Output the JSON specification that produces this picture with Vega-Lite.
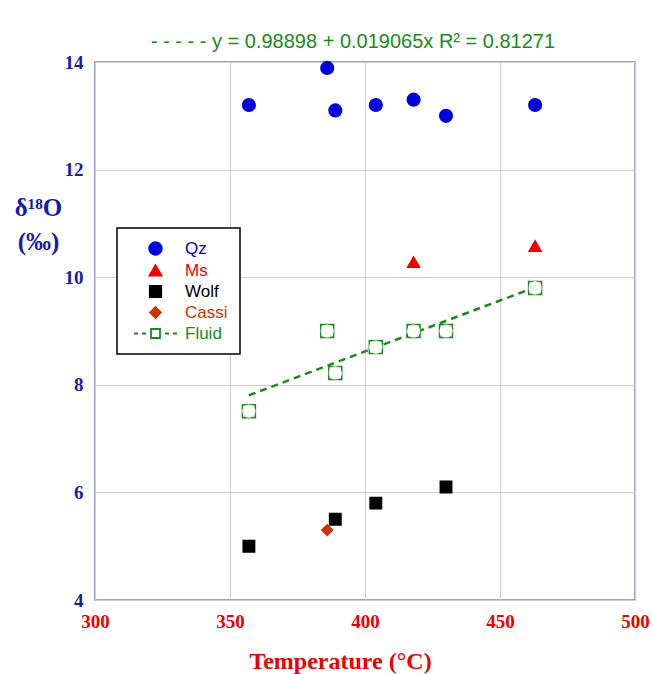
{
  "$schema": "https://vega.github.io/schema/vega-lite/v6.json",
  "width": 540,
  "height": 538,
  "autosize": "none",
  "padding": {"left": 95, "top": 62, "right": 18, "bottom": 74},
  "background": "white",
  "title": {
    "text": "- - - - -  y = 0.98898 + 0.019065x    R² = 0.81271",
    "color": "#1a8a1a",
    "font": "Liberation Sans",
    "fontSize": 20,
    "fontWeight": "normal",
    "anchor": "middle",
    "dx": -12,
    "offset": 1
  },
  "config": {
    "view": {"stroke": "#8080c8", "strokeWidth": 1.5},
    "axis": {"gridColor": "#d0d0d0", "gridWidth": 1, "domain": false, "ticks": false}
  },
  "data": {
    "values": [
      {"series": "Qz", "x": 357, "y": 13.2},
      {"series": "Qz", "x": 386, "y": 13.89},
      {"series": "Qz", "x": 389, "y": 13.1},
      {"series": "Qz", "x": 404, "y": 13.2},
      {"series": "Qz", "x": 418, "y": 13.3},
      {"series": "Qz", "x": 430, "y": 13.0},
      {"series": "Qz", "x": 463, "y": 13.2},
      {"series": "Ms", "x": 418, "y": 10.28},
      {"series": "Ms", "x": 463, "y": 10.58},
      {"series": "Wolf", "x": 357, "y": 5.0},
      {"series": "Wolf", "x": 389, "y": 5.5},
      {"series": "Wolf", "x": 404, "y": 5.8},
      {"series": "Wolf", "x": 430, "y": 6.1},
      {"series": "Cassi", "x": 386, "y": 5.3},
      {"series": "Fluid", "x": 357, "y": 7.51},
      {"series": "Fluid", "x": 386, "y": 9.0},
      {"series": "Fluid", "x": 389, "y": 8.22},
      {"series": "Fluid", "x": 404, "y": 8.7},
      {"series": "Fluid", "x": 418, "y": 9.0},
      {"series": "Fluid", "x": 430, "y": 9.0},
      {"series": "Fluid", "x": 463, "y": 9.8}
    ]
  },
  "layer": [
    {
      "transform": [
        {"filter": "datum.series === 'Fluid'"},
        {"regression": "y", "on": "x"}
      ],
      "mark": {"type": "line", "color": "#1a8a1a", "strokeWidth": 2.5, "strokeDash": [7, 5]},
      "encoding": {
        "x": {"field": "x", "type": "quantitative"},
        "y": {"field": "y", "type": "quantitative"}
      }
    },
    {
      "transform": [{"filter": "datum.series === 'Fluid'"}],
      "mark": {"type": "square", "filled": false, "stroke": "#1a8a1a", "fill": "#ffffff", "fillOpacity": 1, "opacity": 1, "strokeWidth": 1.6, "size": 165},
      "encoding": {
        "x": {"field": "x", "type": "quantitative"},
        "y": {"field": "y", "type": "quantitative"}
      }
    },
    {
      "transform": [{"filter": "datum.series === 'Fluid'"}],
      "mark": {"type": "circle", "fill": "#ffffff", "fillOpacity": 1, "opacity": 1, "size": 175},
      "encoding": {
        "x": {"field": "x", "type": "quantitative"},
        "y": {"field": "y", "type": "quantitative"}
      }
    },
    {
      "mark": {"type": "point", "filled": false, "strokeWidth": 1.5},
      "encoding": {
        "x": {
          "field": "x", "type": "quantitative",
          "scale": {"domain": [300, 500], "nice": false, "zero": false},
          "axis": {
            "values": [300, 350, 400, 450, 500],
            "labelFont": "Liberation Serif", "labelFontSize": 19, "labelFontWeight": "bold",
            "labelColor": "#ee0000", "labelPadding": 12, "labelFlush": false,
            "title": "Temperature (°C)", "titleFont": "Liberation Serif", "titleFontSize": 24,
            "titleFontWeight": "bold", "titleColor": "#ee0000",
            "titleX": 245, "titleY": 68, "titleBaseline": "alphabetic", "titleAnchor": "middle"
          }
        },
        "y": {
          "field": "y", "type": "quantitative",
          "scale": {"domain": [4, 14], "nice": false, "zero": false},
          "axis": {
            "values": [4, 6, 8, 10, 12, 14],
            "labelFont": "Liberation Serif", "labelFontSize": 19, "labelFontWeight": "bold",
            "labelColor": "#1a1aaa", "labelPadding": 12, "labelFlush": false,
            "title": ["δ¹⁸O", "(‰)"], "titleFont": "Liberation Serif", "titleFontSize": 25,
            "titleFontWeight": "bold", "titleColor": "#1a1aaa", "titleAngle": 0,
            "titleX": -57, "titleY": 153, "titleAlign": "center", "titleBaseline": "alphabetic",
            "titleLineHeight": 34
          }
        },
        "opacity": {"condition": {"test": "datum.series === 'Fluid'", "value": 0}, "value": 1},
        "fill": {
          "field": "series", "type": "nominal",
          "scale": {"domain": ["Qz", "Ms", "Wolf", "Cassi", "Fluid"], "range": ["#0000dd", "#ee0000", "#000000", "#cc3300", "#ffffff"]},
          "legend": {
            "title": null, "orient": "none", "legendX": 22, "legendY": 166,
            "strokeColor": "#000000", "fillColor": "#ffffff", "padding": 12,
            "labelFont": "Liberation Sans", "labelFontSize": 17, "labelOffset": 21,
            "symbolOffset": 18, "rowPadding": 2, "symbolStrokeWidth": 1.8, "symbolOpacity": 1,
            "encode": {
              "legend": {"update": {"strokeWidth": {"value": 1.5}}},
              "labels": {"update": {"fill": {"scale": "stroke", "field": "value"}}}
            }
          }
        },
        "stroke": {
          "field": "series", "type": "nominal",
          "scale": {"domain": ["Qz", "Ms", "Wolf", "Cassi", "Fluid"], "range": ["#0000dd", "#ee0000", "#000000", "#cc3300", "#1a8a1a"]}
        },
        "shape": {
          "field": "series", "type": "nominal",
          "scale": {"domain": ["Qz", "Ms", "Wolf", "Cassi", "Fluid"], "range": ["circle", "triangle-up", "square", "diamond", "M-4.3,0H-3.5M-2.7,0H-1.9M1.9,0H2.7M3.5,0H4.3M-0.9,-0.9H0.9V0.9H-0.9Z"]}
        },
        "size": {
          "field": "series", "type": "nominal",
          "scale": {"domain": ["Qz", "Ms", "Wolf", "Cassi", "Fluid"], "range": [160, 100, 150, 70, 160]}
        }
      }
    }
  ]
}
